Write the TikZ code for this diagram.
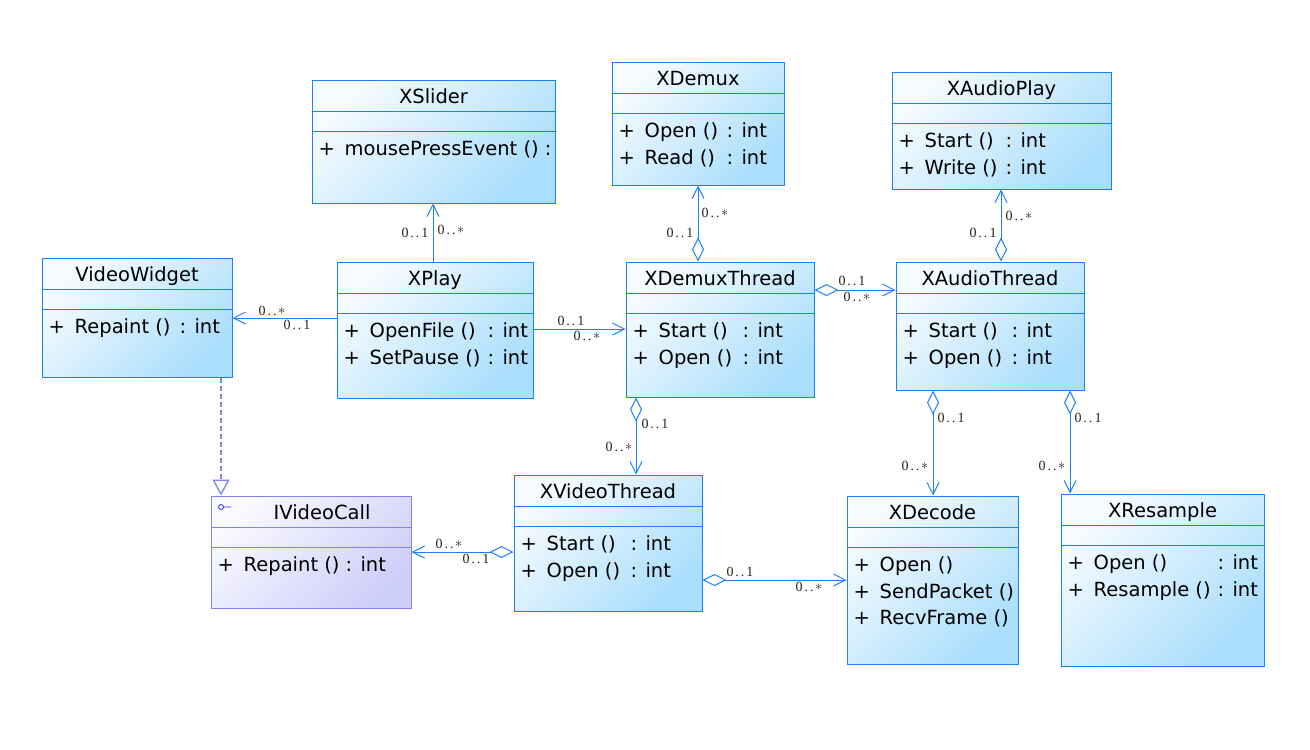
\documentclass[tikz,border=0pt]{standalone}
\usepackage{fontspec}
\setmainfont{DejaVu Sans}
\newfontfamily\multfont{Liberation Serif}
\usetikzlibrary{arrows.meta}
\definecolor{cb}{RGB}{25,128,245}
\definecolor{cl}{RGB}{246,251,255}
\definecolor{cd}{RGB}{170,222,252}
\definecolor{ib}{RGB}{130,130,250}
\definecolor{il}{RGB}{249,249,255}
\definecolor{id}{RGB}{206,206,250}
\definecolor{mc}{RGB}{45,35,20}
\definecolor{iconc}{RGB}{40,40,230}
\tikzset{
  txt/.style={inner sep=0pt, font=\fontsize{19.5}{23}\selectfont, text=black},
  ml/.style={inner sep=0pt, font=\multfont\fontsize{14}{15}\selectfont, text=mc},
  clsbox/.style={draw=cb, line width=1pt, top color=cl, bottom color=cd, shading angle=45, inner sep=0pt},
  ifcbox/.style={draw=ib, line width=1pt, top color=il, bottom color=id, shading angle=45, inner sep=0pt},
  assoc/.style={draw=cb, line width=1pt},
  nav/.style={assoc, -{Straight Barb[length=12pt,width=12pt]}},
  aggnav/.style={assoc, {Diamond[open,length=24pt,width=12pt]}-{Straight Barb[length=12pt,width=12pt]}},
  real/.style={draw=ib, line width=1.3pt, dash pattern=on 5pt off 3pt, -{Triangle[open,length=16pt,width=17pt]}},
}
\newcommand\klass[9]{%
  \node[#7, minimum width={(#4)-(#2)}, minimum height={(#5)-(#3)}] (#1) at ({((#2)+(#4))/2},{((#3)+(#5))/2}) {};
  \draw[draw=#8, line width=1pt] ([yshift=-32pt]#1.north west) -- ([yshift=-32pt]#1.north east);
  \draw[draw=#8, line width=1pt] ([yshift=-52pt]#1.north west) -- ([yshift=-52pt]#1.north east);
  \node[txt, anchor=base] (#1-t) at ([xshift=#9pt,yshift=-24pt]#1.north) {#6};
}
\newcommand\memt[5]{%
  \node[txt,anchor=base west] (#1-p#2) at ([xshift=7pt,yshift={-76pt-26.5pt*#2}]#1.north west) {+};
  \node[txt,anchor=base west] (#1-n#2) at ([xshift=33pt,yshift={-76pt-26.5pt*#2}]#1.north west) {#3};
  \node[txt,anchor=base west] (#1-c#2) at ([xshift={#4pt-2pt},yshift={-76pt-26.5pt*#2}]#1.north west) {: #5};
}
\newcommand\memn[3]{%
  \node[txt,anchor=base west] (#1-p#2) at ([xshift=7pt,yshift={-76pt-26.5pt*#2}]#1.north west) {+};
  \node[txt,anchor=base west] (#1-n#2) at ([xshift=33pt,yshift={-76pt-26.5pt*#2}]#1.north west) {#3};
}
\newcommand\mone{0\kern2pt.\kern2pt.\kern2pt1}
\newcommand\mmany{0\kern2pt.\kern2pt.\kern1.5pt\raisebox{1.5pt}{$\ast$}}
\begin{document}
\begin{tikzpicture}[x=1pt,y=-1pt]
\useasboundingbox[fill=white] (0,0) rectangle (1310,750);
% classes
\klass{xslider}{312}{80}{555}{203}{XSlider}{clsbox}{cb}{0}
\klass{xdemux}{612}{62}{784}{185}{XDemux}{clsbox}{cb}{0}
\klass{xap}{892}{72}{1111}{189}{XAudioPlay}{clsbox}{cb}{0}
\klass{vw}{42}{258}{232}{377}{VideoWidget}{clsbox}{cb}{0}
\klass{xplay}{337}{262}{533}{398}{XPlay}{clsbox}{cb}{0}
\klass{xdt}{626}{262}{814}{397}{XDemuxThread}{clsbox}{cb}{0}
\klass{xat}{896}{262}{1084}{390}{XAudioThread}{clsbox}{cb}{0}
\klass{ivc}{211}{496}{411}{608}{IVideoCall}{ifcbox}{ib}{11}
\klass{xvt}{514}{475}{702}{611}{XVideoThread}{clsbox}{cb}{0}
\klass{xdec}{847}{496}{1018}{664}{XDecode}{clsbox}{cb}{0}
\klass{xres}{1061}{494}{1264}{666}{XResample}{clsbox}{cb}{0}
% interface icon
\draw[iconc, line width=0.8pt] (221,507) circle (2.5) (223.5,507) -- (231,507);
% members
\memn{xslider}{0}{mousePressEvent () :}
\memt{xdemux}{0}{Open ()}{117}{int}
\memt{xdemux}{1}{Read ()}{117}{int}
\memt{xap}{0}{Start ()}{116}{int}
\memt{xap}{1}{Write ()}{116}{int}
\memt{vw}{0}{Repaint ()}{140}{int}
\memt{xplay}{0}{OpenFile ()}{153}{int}
\memt{xplay}{1}{SetPause ()}{153}{int}
\memt{xdt}{0}{Start ()}{119}{int}
\memt{xdt}{1}{Open ()}{119}{int}
\memt{xat}{0}{Start ()}{118}{int}
\memt{xat}{1}{Open ()}{118}{int}
\memt{ivc}{0}{Repaint ()}{137}{int}
\memt{xvt}{0}{Start ()}{119}{int}
\memt{xvt}{1}{Open ()}{119}{int}
\memn{xdec}{0}{Open ()}
\memn{xdec}{1}{SendPacket ()}
\memn{xdec}{2}{RecvFrame ()}
\memt{xres}{0}{Open ()}{159}{int}
\memt{xres}{1}{Resample ()}{159}{int}
% connectors
\draw[nav] (xplay.north -| 433,0) -- (xslider.south -| 433,0);
\draw[nav] (xplay.west |- 0,318) -- (vw.east |- 0,318);
\draw[nav] (xplay.east |- 0,329) -- (xdt.west |- 0,329);
\draw[aggnav] (xdt.north -| 698,0) -- (xdemux.south -| 698,0);
\draw[aggnav] (xdt.east |- 0,290) -- (xat.west |- 0,290);
\draw[aggnav] (xat.north -| 1001,0) -- (xap.south -| 1001,0);
\draw[aggnav] (xdt.south -| 636,0) -- (xvt.north -| 636,0);
\draw[aggnav] (xvt.west |- 0,552) -- (ivc.east |- 0,552);
\draw[aggnav] (xvt.east |- 0,580) -- (xdec.west |- 0,580);
\draw[aggnav] (xat.south -| 933,0) -- (xdec.north -| 933,0);
\draw[aggnav] (xat.south -| 1070,0) -- (xres.north -| 1070,0);
\draw[real] (vw.south -| 221,0) -- (ivc.north -| 221,0);
% multiplicities
\node[ml] (m1a) at (415,233) {\mone};
\node[ml] (m1b) at (451,230) {\mmany};
\node[ml] (m2a) at (272,311) {\mmany};
\node[ml] (m2b) at (297,325) {\mone};
\node[ml] (m3a) at (571,321) {\mone};
\node[ml] (m3b) at (587,336) {\mmany};
\node[ml] (m4a) at (680,233) {\mone};
\node[ml] (m4b) at (715,213) {\mmany};
\node[ml] (m5a) at (852,281) {\mone};
\node[ml] (m5b) at (857,297) {\mmany};
\node[ml] (m6a) at (983,233) {\mone};
\node[ml] (m6b) at (1019,216) {\mmany};
\node[ml] (m7a) at (655,424) {\mone};
\node[ml] (m7b) at (619,447) {\mmany};
\node[ml] (m8a) at (449,544) {\mmany};
\node[ml] (m8b) at (476,559) {\mone};
\node[ml] (m9a) at (740,572) {\mone};
\node[ml] (m9b) at (809,587) {\mmany};
\node[ml] (m10a) at (951,418) {\mone};
\node[ml] (m10b) at (915,466) {\mmany};
\node[ml] (m11a) at (1088,418) {\mone};
\node[ml] (m11b) at (1052,466) {\mmany};
\end{tikzpicture}
\end{document}
